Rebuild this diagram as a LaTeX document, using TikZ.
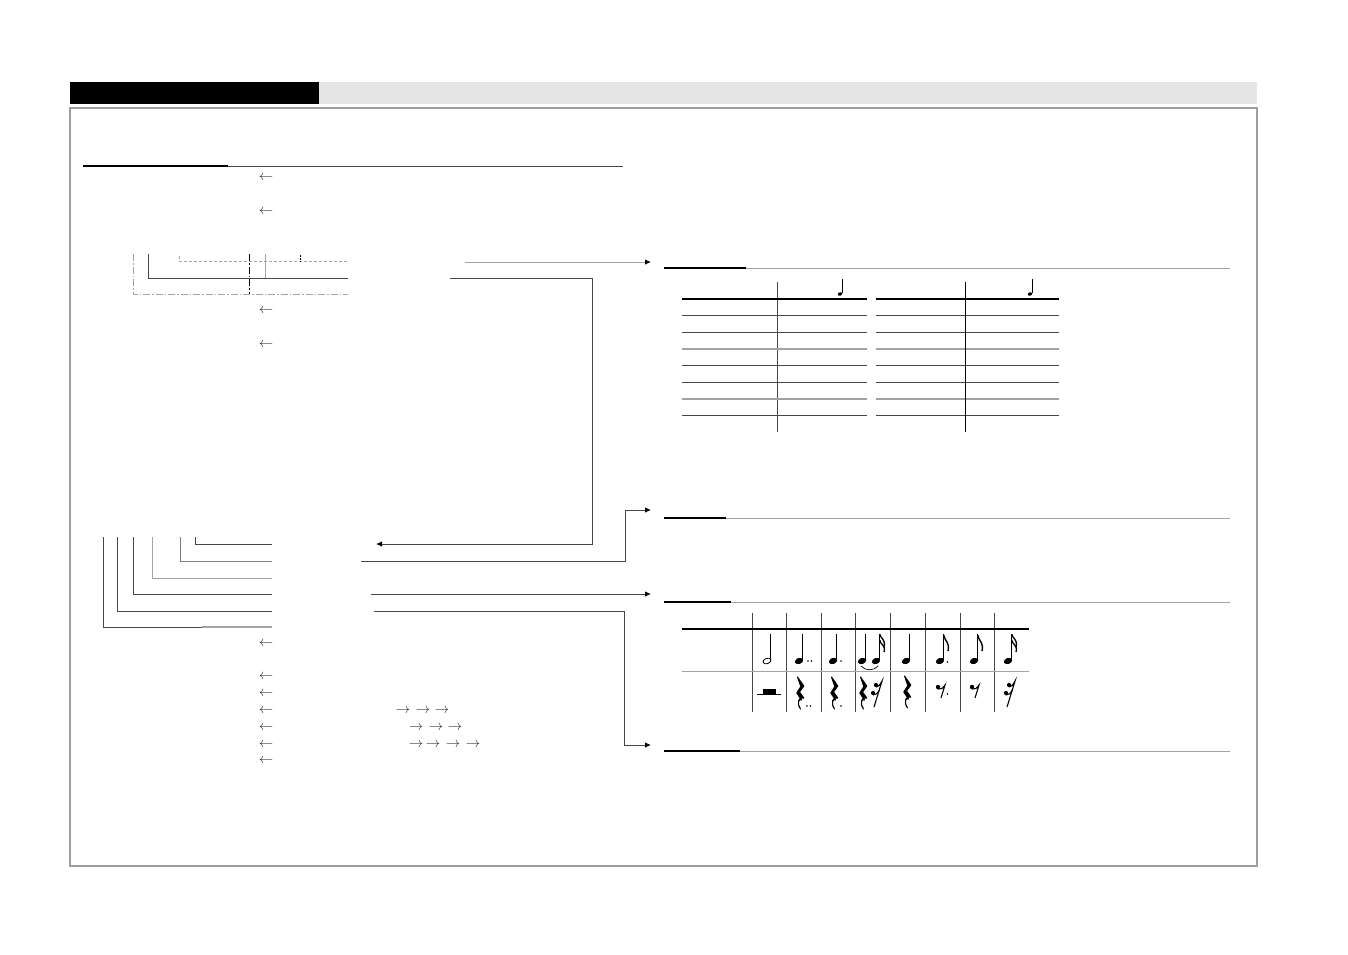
\documentclass[tikz,border=0pt]{standalone}
\usetikzlibrary{arrows.meta}
\definecolor{bargray}{gray}{0.898}
\definecolor{framegray}{gray}{0.62}
\definecolor{dk}{gray}{0.28}
\definecolor{lg}{gray}{0.64}
\begin{document}
\begin{tikzpicture}[x=1pt,y=-1pt,
  conn/.style={dk,line width=0.9pt},
  arr/.style={conn,-{Latex[length=6pt,width=5.5pt,color=black]}},
  headblack/.style={black,line width=2.4pt},
  headgray/.style={lg,line width=1pt},
  tline/.style={dk,line width=0.8pt},
  tgray/.style={lg,line width=1.2pt},
  tthick/.style={black,line width=2pt},
  larrow/.style={black!80,font=\Large,inner sep=0pt},
  qnote/.pic={\fill[rotate=20] (0,0) ellipse [x radius=4.3, y radius=3];
              \draw[line width=0.9pt] (3.7,-1) -- (3.7,-27);},
  hnote/.pic={\draw[line width=0.8pt,rotate=20] (0,0) ellipse [x radius=4.1, y radius=2.7];
              \draw[line width=0.9pt] (3.9,-1) -- (3.9,-27);},
  flagA/.pic={\draw[line width=1.4pt] (3.7,-26) .. controls (4.5,-20) and (10,-19) .. (8,-10);},
  flagB/.pic={\draw[line width=1.3pt] (3.7,-27) .. controls (4.5,-22) and (10,-22) .. (8,-14);
              \draw[line width=1.3pt] (3.7,-21) .. controls (4.5,-16) and (10,-16) .. (8,-9);},
  qrest/.pic={\filldraw[line width=1pt,line join=round]
                (-2.5,-16) -- (3.8,-7) -- (-0.5,-1) -- (3.8,5)
                .. controls (-1,3) and (-4,10) .. (0.5,16)
                .. controls (-3,11) and (-1.5,5) .. (1.5,7)
                -- (-3.2,0) -- (0.8,-6.5) -- cycle;},
  erest/.pic={\fill (-3,-3) circle (2.2);
              \draw[line width=1.1pt] (-3,-1) .. controls (0,0) and (2,-2) .. (4,-5) -- (0,8);},
  srest/.pic={\fill (-1,-8) circle (2.1); \fill (-4,0) circle (2.1);
              \draw[line width=1.1pt] (-1,-6) .. controls (1,-6) and (3,-8) .. (5,-12) -- (-3,14);
              \draw[line width=1.1pt] (-4,2) .. controls (-1,2) and (1,0) .. (2.5,-3);}
]
\useasboundingbox (0,0) rectangle (1348,954);

% header bar
\fill[bargray] (319,82) rectangle (1257,104);
\fill[black] (70,82) rectangle (319,104);
% frame
\draw[framegray,line width=1.2pt] (70,108) rectangle (1257,866);

% section 1 heading
\draw[headgray,dk] (228,166) -- (623,166);
\draw[headblack] (83,166) -- (228,166);

% left arrows
\foreach \yy in {178,212,311,345,644,677,694,711,728,745,761}
  \node[larrow] at (266,\yy) {$\leftarrow$};
% right arrows
\foreach \xx in {403,423,442} \node[larrow] at (\xx,711) {$\rightarrow$};
\foreach \xx in {416,436,455} \node[larrow] at (\xx,728) {$\rightarrow$};
\foreach \xx in {416,433,453,473} \node[larrow] at (\xx,745) {$\rightarrow$};

% bracket lines upper
\draw[lg,line width=0.9pt,dash pattern=on 7pt off 2pt on 1.5pt off 2pt] (133,254) -- (133,294) -- (348,294);
\draw[dk,line width=0.9pt] (148,254) -- (148,278) -- (348,278);
\draw[lg,line width=0.9pt,dash pattern=on 3pt off 2pt] (179,256) -- (179,261) -- (348,261);
\draw[black,line width=0.8pt,dash pattern=on 2pt off 1pt] (300,255) -- (300,262);
\draw[lg,line width=0.9pt] (265,254) -- (265,278);
\draw[black,line width=0.9pt,dash pattern=on 7pt off 2pt on 1.5pt off 2pt] (249,254) -- (249,294);

% connectors from upper block
\coordinate (a1) at (465,262);
\coordinate (a1e) at (651,262);
\draw[arr,draw=lg] (a1) -- (a1e);
\coordinate (b1) at (450,278);
\coordinate (b1e) at (376,544);
\draw[arr] (b1) -- (592,278) -- (592,544) -- (b1e);

% L lines lower left
\draw[dk,line width=0.9pt] (195,537) -- (195,544) -- (272,544);
\draw[dk!70,line width=0.9pt] (180,537) -- (180,561) -- (272,561);
\draw[lg,line width=0.9pt] (152,537) -- (152,578) -- (272,578);
\draw[dk,line width=0.9pt] (133,537) -- (133,594) -- (272,594);
\draw[dk,line width=0.9pt] (117,537) -- (117,611) -- (272,611);
\draw[dk,line width=0.9pt] (103,537) -- (103,627) -- (202,627);
\draw[lg,line width=1.2pt] (202,627) -- (272,627);

% connectors to right sections
\coordinate (c1) at (361,561); \coordinate (c1e) at (651,510);
\draw[arr] (c1) -- (625,561) -- (625,510) -- (c1e);
\coordinate (c2) at (371,594); \coordinate (c2e) at (651,594);
\draw[arr] (c2) -- (c2e);
\coordinate (c3) at (374,611); \coordinate (c3e) at (651,745);
\draw[arr] (c3) -- (624,611) -- (624,745) -- (c3e);

% right section headings
\foreach \yy/\xe in {268/746,518/726,602/731,751/740}{
  \draw[headgray] (\xe,\yy) -- (1230,\yy);
  \draw[headblack] (664,\yy) -- (\xe,\yy);
}

% tables
\foreach \xa/\xv/\xb in {682/777/867,876/965/1059}{
  \draw[tline] (\xv,282) -- (\xv,432);
  \draw[tthick] (\xa,299) -- (\xb,299);
  \foreach \yy in {315,332,365,382,415} \draw[tline] (\xa,\yy) -- (\xb,\yy);
  \foreach \yy in {349,399} \draw[tgray] (\xa,\yy) -- (\xb,\yy);
}
\draw[black,line width=0.9pt] (965,282) -- (965,432);
\pic[scale=0.55] at (840,294) {qnote};
\pic[scale=0.55] at (1030,294) {qnote};

% music table
\foreach \xx in {752,786,821,855,890,925,960,994}
  \draw[dk,line width=0.9pt] (\xx,613) -- (\xx,712);
\draw[black,line width=1.5pt] (682,629) -- (1029,629);
\draw[lg,line width=1pt] (682,671) -- (1029,671);

% notes
\pic at (767,661) {hnote};
\pic at (799,661) {qnote};
\fill (808,661) circle (0.9); \fill (811.5,661) circle (0.9);
\pic at (833,661) {qnote};
\fill (841,661) circle (0.9);
\pic at (862,661) {qnote};
\pic at (876,661) {qnote};
\pic at (876,661) {flagB};
\draw[line width=0.7pt] (861,666) .. controls (865,671) and (874,671) .. (878,666);
\pic at (906,661) {qnote};
\pic at (940,661) {qnote};
\pic at (940,661) {flagA};
\fill (947.5,662) circle (0.9);
\pic at (974,661) {qnote};
\pic at (974,661) {flagA};
\pic at (1008,661) {qnote};
\pic at (1008,661) {flagB};

% rests
\fill (763,689) rectangle (776,694);
\draw[line width=0.9pt] (757,694) -- (781,694);
\pic at (800,693) {qrest};
\fill (807,706) circle (0.9); \fill (810.5,706) circle (0.9);
\pic at (834,693) {qrest};
\fill (841,706) circle (0.9);
\pic at (863,693) {qrest};
\pic at (877,693) {srest};
\pic at (907,692) {qrest};
\pic at (941,690) {erest};
\fill (947.5,694) circle (0.9);
\pic at (975,690) {erest};
\pic at (1010,693) {srest};
\end{tikzpicture}
\end{document}
